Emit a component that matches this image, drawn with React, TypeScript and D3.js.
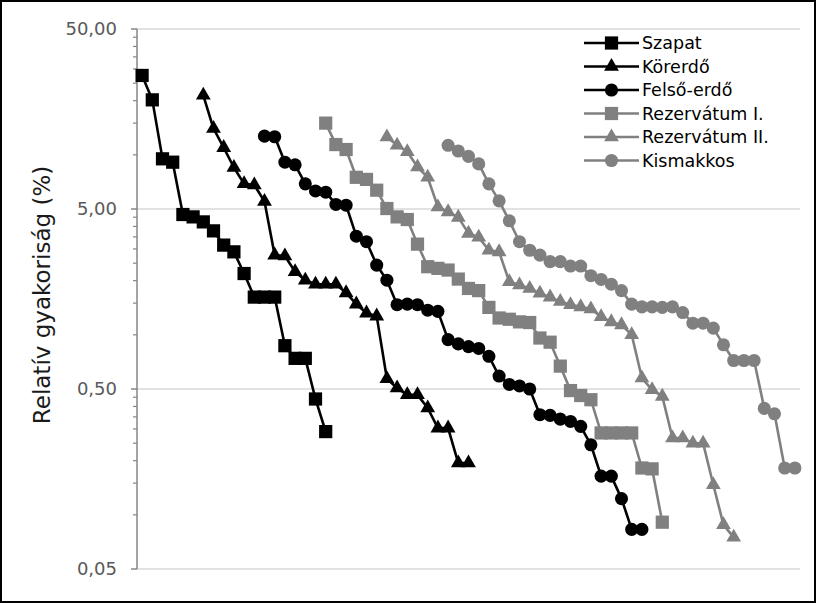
import React from "react";
import * as d3 from "d3";

// ---- data ----
const seriesNames = ["Szapat", "Körerdő", "Felső-erdő", "Rezervátum I.", "Rezervátum II.", "Kismakkos"];
// category index at which each series starts on the shared rank axis
const seriesOffsets = [0, 6, 12, 18, 24, 30];
const categoryCount = 65;

const szapat = [27.6, 20.2, 9.5, 9.1, 4.66, 4.52, 4.24, 3.78, 3.15, 2.89, 2.19, 1.62, 1.62, 1.62, 0.87, 0.74, 0.74, 0.44, 0.29];
const korerdo = [21.4, 14.0, 10.96, 8.5, 6.9, 6.8, 5.5, 2.77, 2.74, 2.24, 2.01, 1.91, 1.91, 1.91, 1.71, 1.48, 1.32, 1.27, 0.57, 0.506, 0.464, 0.464, 0.392, 0.303, 0.303, 0.194, 0.194];
const felsoErdo = [12.7, 12.6, 9.1, 8.8, 6.9, 6.3, 6.2, 5.3, 5.25, 3.53, 3.29, 2.44, 2.01, 1.47, 1.48, 1.47, 1.37, 1.35, 0.94, 0.89, 0.86, 0.84, 0.76, 0.59, 0.53, 0.52, 0.5, 0.36, 0.357, 0.34, 0.33, 0.31, 0.245, 0.164, 0.164, 0.123, 0.083, 0.083];
const rezervatum1 = [15.0, 11.4, 10.7, 7.5, 7.3, 6.36, 5.03, 4.52, 4.37, 3.19, 2.39, 2.34, 2.29, 2.04, 1.81, 1.76, 1.42, 1.24, 1.22, 1.18, 1.17, 0.96, 0.91, 0.67, 0.49, 0.46, 0.436, 0.285, 0.285, 0.285, 0.285, 0.182, 0.18, 0.091];
const rezervatum2 = [12.55, 11.3, 10.4, 8.56, 7.5, 5.13, 4.82, 4.49, 3.66, 3.48, 2.95, 2.89, 1.97, 1.89, 1.81, 1.7, 1.62, 1.53, 1.47, 1.43, 1.39, 1.26, 1.18, 1.135, 1.0, 0.575, 0.495, 0.455, 0.267, 0.267, 0.25, 0.25, 0.147, 0.088, 0.075];
const kismakkos = [11.3, 10.5, 9.8, 8.9, 6.9, 5.55, 4.3, 3.29, 2.95, 2.77, 2.55, 2.55, 2.41, 2.41, 2.13, 2.03, 1.91, 1.76, 1.48, 1.43, 1.43, 1.42, 1.43, 1.33, 1.16, 1.16, 1.09, 0.88, 0.72, 0.72, 0.72, 0.39, 0.364, 0.182, 0.182];

const seriesValues = [szapat, korerdo, felsoErdo, rezervatum1, rezervatum2, kismakkos];
const seriesColors = ["#000000", "#000000", "#000000", "#808080", "#808080", "#808080"];
const seriesMarkers = ["square", "triangle", "circle", "square", "triangle", "circle"];

const yTickValues = [0.05, 0.5, 5, 50];
const yTickLabels = ["0,05", "0,50", "5,00", "50,00"];
const yTitle = "Relatív gyakoriság (%)";

// ---- layout ----
const W = 816;
const H = 603;
const plotLeft = 137;
const plotRight = 800;
const plotTop = 29;
const plotBottom = 569;
const FONT = "'DejaVu Sans', sans-serif";

const symbolFor = (m: string) =>
  m === "square"
    ? d3.symbol(d3.symbolSquare, 175)
    : m === "triangle"
    ? d3.symbol(d3.symbolTriangle, 95)
    : d3.symbol(d3.symbolCircle, 135);

export default function App() {
  const x = d3
    .scalePoint<number>()
    .domain(d3.range(categoryCount))
    .range([plotLeft, plotRight])
    .padding(0.5);
  const y = d3.scaleLog().domain([0.05, 50]).range([plotBottom, plotTop]);

  const minorTicks: number[] = [];
  for (let d = 0; d < yTickValues.length - 1; d++) {
    for (let k = 2; k <= 9; k++) minorTicks.push(yTickValues[d] * k);
  }

  const line = d3
    .line<[number, number]>()
    .x((d) => d[0])
    .y((d) => d[1]);

  const legendX = 584;
  const legendY0 = 43;
  const legendDy = 23.5;

  return (
    <svg
      width={W}
      height={H}
      style={{ position: "absolute", left: 0, top: 0, background: "#fff" }}
      fontFamily={FONT}
    >
      <rect x={0} y={0} width={W} height={H} fill="#fff" />
      {/* gridlines */}
      {yTickValues.map((v) => (
        <line key={v} x1={plotLeft} x2={plotRight} y1={y(v)} y2={y(v)} stroke="#d9d9d9" strokeWidth={1.5} />
      ))}
      {/* y axis */}
      <line x1={plotLeft} x2={plotLeft} y1={plotTop} y2={plotBottom} stroke="#868686" strokeWidth={1.5} />
      {yTickValues.map((v) => (
        <line key={"t" + v} x1={plotLeft - 6} x2={plotLeft} y1={y(v)} y2={y(v)} stroke="#868686" strokeWidth={1.5} />
      ))}
      {minorTicks.map((v) => (
        <line key={"m" + v} x1={plotLeft - 4} x2={plotLeft} y1={y(v)} y2={y(v)} stroke="#868686" strokeWidth={1.2} />
      ))}
      {yTickValues.map((v, i) => (
        <text key={"l" + v} x={117} y={y(v)} dy="0.36em" textAnchor="end" fontSize={18} fill="#595959">
          {yTickLabels[i]}
        </text>
      ))}
      <text
        transform={`translate(42,${(plotTop + plotBottom) / 2 - 4}) rotate(-90)`}
        textAnchor="middle"
        dy="0.35em"
        fontSize={23}
        fill="#1a1a1a"
      >
        {yTitle}
      </text>

      {/* series */}
      {seriesValues.map((vals, si) => {
        const pts: [number, number][] = vals.map((v, i) => [x(i + seriesOffsets[si]) as number, y(v)]);
        const sym = symbolFor(seriesMarkers[si]);
        return (
          <g key={seriesNames[si]}>
            <path d={line(pts) || ""} fill="none" stroke={seriesColors[si]} strokeWidth={2.6} strokeLinejoin="round" />
            {pts.map((p, i) => (
              <path key={i} d={sym() || ""} transform={`translate(${p[0]},${p[1]})`} fill={seriesColors[si]} />
            ))}
          </g>
        );
      })}

      {/* legend */}
      {seriesNames.map((name, si) => {
        const ly = legendY0 + si * legendDy;
        const sym = symbolFor(seriesMarkers[si]);
        return (
          <g key={"lg" + name}>
            <line x1={legendX} x2={legendX + 55} y1={ly} y2={ly} stroke={seriesColors[si]} strokeWidth={2.6} />
            <path d={sym() || ""} transform={`translate(${legendX + 27.5},${ly})`} fill={seriesColors[si]} />
            <text x={legendX + 58} y={ly} dy="0.36em" fontSize={17.5} fill="#000">
              {name}
            </text>
          </g>
        );
      })}

      {/* outer border */}
      <rect x={1} y={1} width={W - 2} height={H - 2} fill="none" stroke="#000" strokeWidth={2} />
    </svg>
  );
}
